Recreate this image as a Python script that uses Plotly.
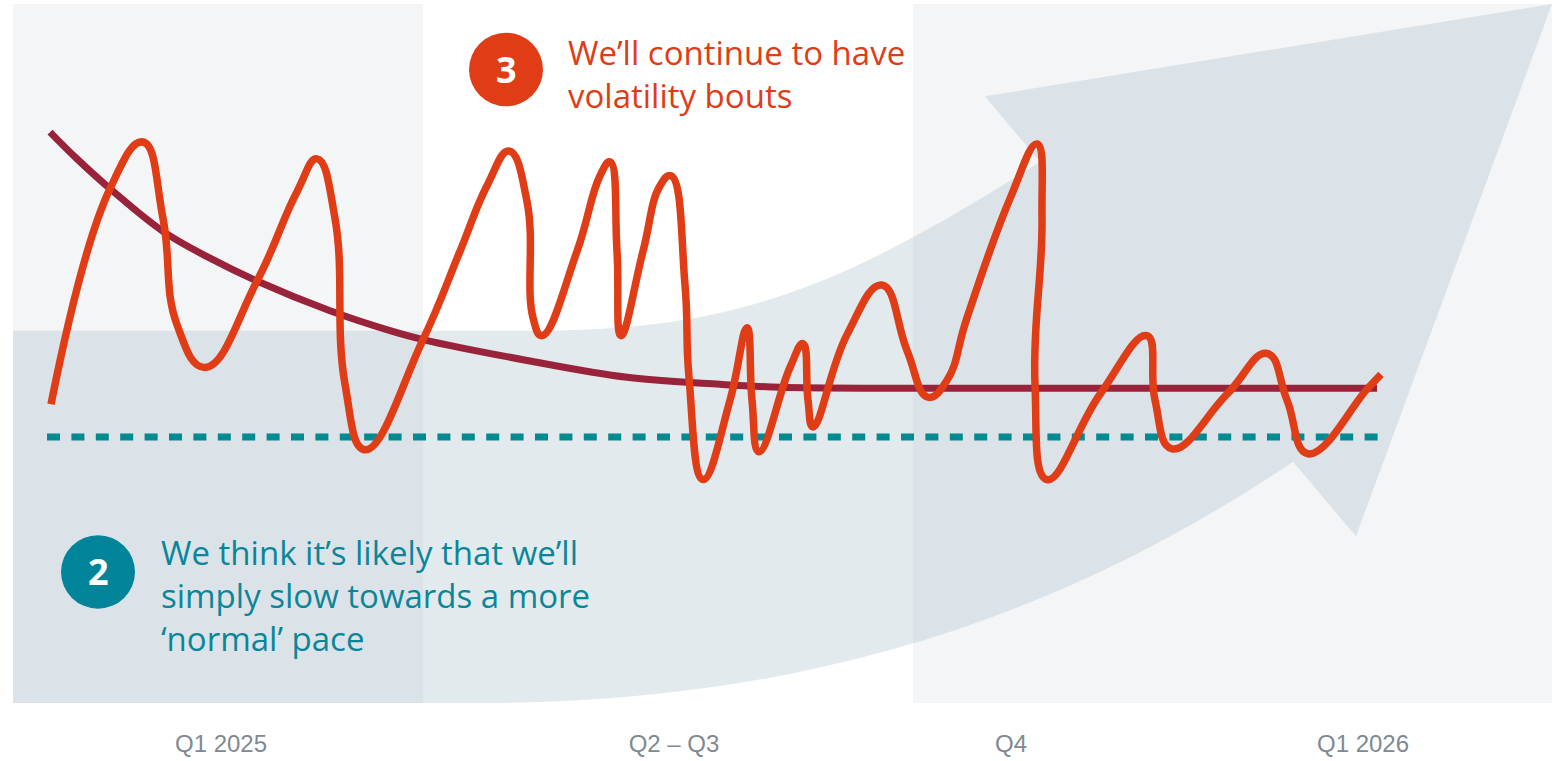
import plotly.graph_objects as go

# ---- data (chart units: x = time index, y = growth-pace index) ----
volatile_x = [38, 97, 130, 150, 164, 192, 244, 284, 304, 322, 332, 352, 410, 447, 474, 496,
              514, 520, 529, 564, 587, 597, 604, 608, 630, 647, 658, 672, 676, 690, 717, 734, 739, 746,
              777, 790, 795, 800, 834, 869, 894, 915, 934, 954, 997, 1024, 1029, 1022, 1034, 1087, 1134,
              1142, 1159, 1214, 1254, 1274, 1295, 1354, 1368]
volatile_y = [301, 518, 565, 488, 381, 338, 425, 515, 548, 488, 321, 255, 366, 455, 521, 556,
              505, 388, 370, 455, 531, 545, 455, 370, 455, 521, 531, 421, 328, 225, 305, 378, 305, 253,
              338, 362, 305, 278, 371, 421, 355, 308, 325, 388, 508, 563, 488, 321, 225, 311, 370,
              305, 256, 311, 352, 305, 251, 316, 331]

slowing_x = [37, 64, 97, 150, 197, 244, 317, 377, 410, 514, 614, 707, 767, 887, 1364]
slowing_y = [575, 548, 518, 475, 448, 425, 395, 375, 366, 345, 328, 321, 318, 317, 317]

normal_x = [34, 1373]
normal_y = [268, 268]

tick_vals = [208, 661, 998, 1350]
tick_text = ["Q1 2025", "Q2 \u2013 Q3", "Q4", "Q1 2026"]

X_MAX, Y_MAX = 1539, 704

RED = "#E03C16"
MAROON = "#99233A"
TEAL_LINE = "#008A92"
TEAL = "#0A869A"
PANEL = "#F4F5F7"
ARROW = "rgba(175,195,203,0.35)"
TEXT_FONT = "Open Sans"

fig = go.Figure()

fig.add_trace(go.Scatter(x=normal_x, y=normal_y, mode="lines",
                         line=dict(color=TEAL_LINE, width=7, dash="13px,11.4px"),
                         hoverinfo="skip"))
fig.add_trace(go.Scatter(x=slowing_x, y=slowing_y, mode="lines",
                         line=dict(color=MAROON, width=7, shape="spline", smoothing=1),
                         hoverinfo="skip"))
fig.add_trace(go.Scatter(x=volatile_x, y=volatile_y, mode="lines",
                         line=dict(color=RED, width=7.5, shape="spline", smoothing=1.3),
                         hoverinfo="skip"))

shapes = [
    # period panels
    dict(type="rect", xref="x", yref="y", x0=0, x1=410, y0=0, y1=Y_MAX,
         fillcolor=PANEL, line=dict(width=0), layer="below"),
    dict(type="rect", xref="x", yref="y", x0=900, x1=X_MAX, y0=0, y1=Y_MAX,
         fillcolor=PANEL, line=dict(width=0), layer="below"),
    # large rising arrow
    dict(type="path", xref="x", yref="y", layer="below", fillcolor=ARROW, line=dict(width=0),
         path=("M 0,375 L 520,375 C 720,375 827,417 1027,545 "
               "L 972,611 L 1539,704 L 1343,168 L 1280,243 "
               "C 1030,73 767,0 467,0 L 0,0 Z")),
    # numbered markers
    dict(type="circle", xref="x", yref="y", x0=456, x1=530, y0=601, y1=675,
         fillcolor=RED, line=dict(width=0), layer="above"),
    dict(type="circle", xref="x", yref="y", x0=48, x1=122, y0=95, y1=169,
         fillcolor="#00849A", line=dict(width=0), layer="above"),
]

annotations = [
    dict(x=493, y=638, xref="x", yref="y", text="<b>3</b>", showarrow=False,
         font=dict(family=TEXT_FONT, size=36, color="white"), xanchor="center", yanchor="middle"),
    dict(x=553, y=634, xref="x", yref="y", text="We\u2019ll continue to have<br>volatility bouts",
         showarrow=False, align="left", xanchor="left", yanchor="middle",
         font=dict(family=TEXT_FONT, size=33, color=RED)),
    dict(x=85, y=132, xref="x", yref="y", text="<b>2</b>", showarrow=False,
         font=dict(family=TEXT_FONT, size=36, color="white"), xanchor="center", yanchor="middle"),
    dict(x=146, y=108, xref="x", yref="y",
         text="We think it\u2019s likely that we\u2019ll<br>simply slow towards a more<br>\u2018normal\u2019 pace",
         showarrow=False, align="left", xanchor="left", yanchor="middle",
         font=dict(family=TEXT_FONT, size=33, color=TEAL)),
]

fig.update_layout(
    width=1562, height=761,
    margin=dict(l=13, r=10, t=4, b=53),
    paper_bgcolor="white", plot_bgcolor="white",
    showlegend=False,
    shapes=shapes, annotations=annotations,
    xaxis=dict(range=[0, X_MAX], showgrid=False, zeroline=False, showline=False,
               tickvals=tick_vals, ticktext=tick_text, ticks="",
               ticklabelstandoff=24,
               tickfont=dict(family="Liberation Sans, Arial", size=24, color="#808991"),
               fixedrange=True),
    yaxis=dict(range=[0, Y_MAX], visible=False, fixedrange=True),
)

fig.write_html("out.html", config={"displayModeBar": False})
